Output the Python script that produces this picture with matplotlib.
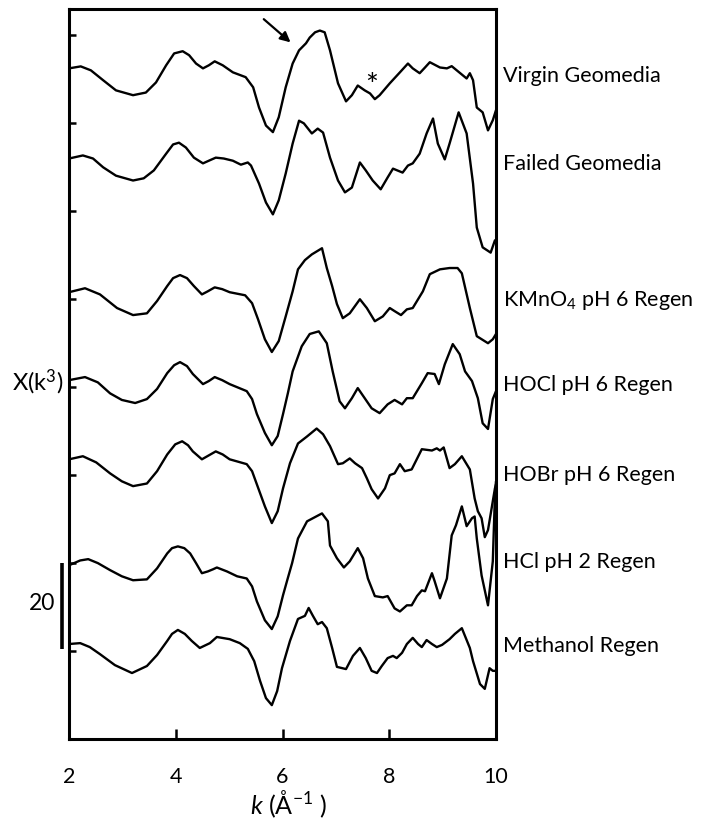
import matplotlib
matplotlib.use("Agg")
import matplotlib.pyplot as plt
import matplotlib.transforms as mtransforms
import numpy as np

plt.rcParams['font.family'] = ['Lato', 'DejaVu Sans']
plt.rcParams['mathtext.fontset'] = 'custom'
plt.rcParams['mathtext.rm'] = 'Lato'
plt.rcParams['mathtext.it'] = 'Lato:italic'

# ---------------- data (k in 1/Angstrom, k^3-weighted chi relative to each trace start) ----------
labels = ["Virgin Geomedia", "Failed Geomedia", "KMnO$_4$ pH 6 Regen", "HOCl pH 6 Regen",
          "HOBr pH 6 Regen", "HCl pH 2 Regen", "Methanol Regen"]
offsets = [152.5, 132.0, 101.6, 81.6, 63.6, 39.5, 21.6]
label_y = [150.7, 130.7, 99.6, 80.5, 60.0, 40.2, 21.1]

k_virgin = [2.00, 2.22, 2.41, 2.64, 2.88, 3.20, 3.44, 3.63, 3.82, 3.97, 4.13, 4.25, 4.38, 4.51, 4.62,
            4.73, 4.88, 5.07, 5.31, 5.45, 5.56, 5.69, 5.82, 5.93, 6.06, 6.19, 6.31, 6.44, 6.51, 6.61,
            6.70, 6.79, 6.89, 7.04, 7.19, 7.30, 7.41, 7.54, 7.64, 7.73, 7.82, 8.01, 8.20, 8.35, 8.44,
            8.57, 8.67, 8.76, 8.95, 9.08, 9.17, 9.27, 9.38, 9.45, 9.51, 9.57, 9.64, 9.75, 9.85, 9.94,
            10.0]
chi_virgin = [0, 0.45, -0.45, -2.7, -5.0, -6.1, -5.5, -3.2, 0.7, 3.4, 3.9, 3.0, 1.1, 0, 0.7,
              1.6, 0.7, -0.9, -2.0, -4.3, -8.9, -13.0, -14.5, -11.1, -4.3, 1.1, 4.1, 5.7, 7.0, 8.2,
              8.6, 8.2, 4.1, -3.4, -7.5, -6.1, -3.9, -5.0, -5.7, -7.0, -6.1, -3.4, -0.9, 1.1, 0,
              -1.1, 0.2, 1.4, 0.2, 0, 0.5, -0.5, -1.6, -2.3, -1.1, -2.7, -8.9, -10.0, -14.1, -11.8,
              -9.5]

k_failed = [2.00, 2.26, 2.45, 2.64, 2.88, 3.20, 3.40, 3.59, 3.82, 3.95, 4.06, 4.19, 4.34, 4.51, 4.62,
            4.75, 4.90, 5.07, 5.22, 5.35, 5.41, 5.56, 5.69, 5.82, 5.93, 6.06, 6.19, 6.31, 6.40, 6.55,
            6.66, 6.76, 6.89, 7.04, 7.17, 7.30, 7.45, 7.56, 7.69, 7.84, 7.97, 8.07, 8.25, 8.35, 8.44,
            8.57, 8.70, 8.82, 8.91, 9.04, 9.13, 9.30, 9.45, 9.57, 9.64, 9.75, 9.90, 9.98]
chi_failed = [0, 0.7, 0, -2.0, -3.9, -5.0, -4.5, -2.7, 1.1, 3.2, 3.6, 2.5, 0.2, -1.1, -0.5,
              0.2, 0, -0.5, -1.4, -0.9, -1.6, -5.7, -10.0, -12.7, -9.5, -3.4, 3.4, 8.6, 8.0, 5.7,
              6.8, 5.9, 0.2, -5.0, -7.7, -6.6, -0.9, -2.7, -5.0, -7.0, -4.3, -2.3, -3.2, -1.6, -1.1,
              1.1, 5.7, 9.1, 3.4, -0.2, 3.4, 10.5, 5.7, -5.7, -15.7, -20.2, -21.4, -18.6]

k_kmno4 = [2.00, 2.30, 2.58, 2.90, 3.20, 3.46, 3.65, 3.84, 3.95, 4.08, 4.21, 4.34, 4.49, 4.60, 4.73,
           4.87, 5.01, 5.30, 5.43, 5.54, 5.67, 5.80, 5.93, 6.06, 6.19, 6.29, 6.42, 6.55, 6.74, 6.83,
           6.93, 7.02, 7.13, 7.26, 7.45, 7.58, 7.73, 7.88, 8.01, 8.10, 8.22, 8.33, 8.44, 8.63, 8.76,
           8.95, 9.13, 9.28, 9.36, 9.51, 9.64, 9.85, 9.94, 10.0]
chi_kmno4 = [0, 0.9, -0.5, -3.6, -5.2, -4.8, -2.0, 1.4, 3.2, 3.9, 3.2, 1.4, -0.5, 0.2, 1.1,
             0.7, 0, -0.7, -2.5, -6.1, -10.7, -13.6, -11.1, -5.5, 0.2, 5.2, 7.3, 8.6, 10.0, 5.5,
             1.4, -2.7, -5.9, -4.8, -1.6, -3.6, -6.6, -5.5, -3.6, -4.3, -5.2, -3.9, -3.6, 0.2, 4.1,
             5.2, 5.5, 5.5, 4.3, -3.6, -10.0, -11.6, -10.7, -9.5]

k_hocl = [2.00, 2.30, 2.54, 2.77, 2.99, 3.24, 3.46, 3.65, 3.84, 3.97, 4.08, 4.21, 4.32, 4.51, 4.62,
          4.73, 4.87, 5.01, 5.33, 5.43, 5.52, 5.67, 5.80, 5.91, 6.01, 6.10, 6.19, 6.36, 6.51, 6.68,
          6.83, 6.94, 7.07, 7.17, 7.30, 7.41, 7.54, 7.67, 7.82, 7.97, 8.10, 8.24, 8.33, 8.44, 8.61,
          8.72, 8.85, 8.93, 9.04, 9.19, 9.32, 9.42, 9.55, 9.66, 9.75, 9.85, 9.94, 10.0]
chi_hocl = [0, 0.7, -0.5, -3.0, -4.5, -5.2, -4.3, -2.0, 1.6, 3.4, 4.1, 3.2, 1.4, -0.9, -0.2,
            0.7, 0, -0.9, -2.5, -4.3, -7.7, -12.0, -14.8, -12.7, -7.7, -3.0, 2.0, 7.7, 10.5, 11.1,
            8.4, 2.0, -4.8, -6.4, -4.1, -1.8, -4.1, -6.4, -7.5, -5.5, -4.5, -5.5, -4.1, -4.1, -0.7,
            1.6, 1.4, -0.9, 3.6, 8.2, 5.9, 2.0, -0.2, -4.1, -9.8, -11.1, -4.3, -2.5]

k_hobr = [2.00, 2.26, 2.51, 2.77, 2.99, 3.20, 3.46, 3.65, 3.84, 3.99, 4.12, 4.23, 4.32, 4.49, 4.62,
          4.75, 4.88, 5.01, 5.33, 5.43, 5.52, 5.67, 5.80, 5.91, 6.01, 6.14, 6.29, 6.46, 6.64, 6.76,
          6.89, 7.04, 7.13, 7.26, 7.36, 7.49, 7.58, 7.67, 7.79, 7.92, 8.01, 8.10, 8.20, 8.29, 8.42,
          8.61, 8.80, 8.89, 8.95, 9.02, 9.13, 9.23, 9.36, 9.45, 9.51, 9.60, 9.66, 9.73, 9.79, 9.85,
          9.98, 10.0]
chi_hobr = [0, 0.7, -0.7, -3.2, -5.0, -6.1, -5.5, -2.7, 1.1, 3.4, 4.1, 3.2, 1.8, 0, 0.9,
            1.8, 1.1, 0, -1.1, -2.7, -5.7, -10.7, -14.5, -11.8, -6.6, -0.9, 3.6, 5.2, 7.0, 5.7,
            3.0, -1.1, -0.9, 0.2, -0.9, -2.0, -4.3, -6.8, -8.9, -6.6, -3.6, -3.2, -1.1, -2.7, -2.3,
            2.3, 2.0, 2.5, 2.0, 2.7, -2.0, -1.1, 0.7, -1.1, -2.3, -8.9, -11.8, -13.4, -17.7, -16.1,
            -6.6, -5.7]

k_hcl = [2.00, 2.21, 2.36, 2.54, 2.77, 2.99, 3.20, 3.46, 3.65, 3.84, 3.93, 4.04, 4.16, 4.27, 4.38,
         4.49, 4.60, 4.70, 4.77, 4.96, 5.15, 5.33, 5.43, 5.52, 5.67, 5.80, 5.91, 6.01, 6.10, 6.18,
         6.29, 6.46, 6.74, 6.85, 6.89, 7.02, 7.15, 7.26, 7.41, 7.51, 7.60, 7.73, 7.88, 7.97, 8.10,
         8.20, 8.33, 8.42, 8.52, 8.61, 8.67, 8.80, 8.85, 8.95, 9.08, 9.17, 9.25, 9.36, 9.45, 9.55,
         9.60, 9.64, 9.73, 9.85, 9.94, 9.98, 10.0]
chi_hcl = [0, 1.1, 1.4, 0.5, -1.1, -2.5, -3.4, -3.2, -0.7, 2.7, 3.9, 4.3, 3.9, 2.7, 0.5,
           -1.8, -1.4, -0.9, -0.5, -1.4, -2.5, -3.0, -4.8, -8.2, -12.5, -14.5, -11.6, -6.8, -2.9, 0.5,
           6.1, 10.0, 11.8, 10.0, 4.5, 1.6, -0.5, 0.9, 3.9, 1.6, -3.0, -7.0, -7.3, -7.0, -9.8,
           -10.5, -9.1, -9.1, -7.0, -5.7, -5.9, -1.8, -3.6, -7.5, -3.0, 6.8, 9.1, 13.4, 8.9, 10.7,
           11.1, 6.1, -2.3, -9.1, 0.9, 15.9, 19.1]

k_meoh = [2.00, 2.21, 2.39, 2.58, 2.86, 3.18, 3.46, 3.65, 3.84, 3.93, 4.04, 4.17, 4.30, 4.45, 4.64,
          4.77, 5.01, 5.20, 5.35, 5.47, 5.58, 5.69, 5.80, 5.90, 5.99, 6.14, 6.29, 6.42, 6.49, 6.57,
          6.66, 6.74, 6.83, 6.93, 7.02, 7.19, 7.32, 7.45, 7.56, 7.67, 7.77, 7.86, 7.97, 8.07, 8.14,
          8.24, 8.33, 8.44, 8.54, 8.61, 8.70, 8.80, 8.89, 8.99, 9.13, 9.23, 9.36, 9.51, 9.57, 9.70,
          9.79, 9.88, 9.94, 9.98]
chi_meoh = [0, 0.2, -0.7, -2.3, -4.8, -6.6, -5.0, -2.5, 0.7, 2.3, 3.2, 2.3, 0.7, -0.9, 0.2,
            1.6, 1.1, 0.2, -1.1, -3.9, -8.4, -12.3, -13.9, -10.7, -5.5, 0.7, 5.7, 6.4, 8.2, 6.4,
            4.5, 5.0, 3.6, -0.9, -5.2, -5.7, -2.7, -0.9, -3.2, -6.1, -6.6, -5.0, -3.2, -2.7, -3.2,
            -2.0, 0, 1.4, 0, -0.7, 0.9, 0, -0.7, -0.2, 1.1, 2.3, 3.6, -0.9, -3.9, -9.1,
            -10.2, -5.5, -6.1, -6.1]

k_series = [k_virgin, k_failed, k_kmno4, k_hocl, k_hobr, k_hcl, k_meoh]
chi_series = [chi_virgin, chi_failed, chi_kmno4, chi_hocl, chi_hobr, chi_hcl, chi_meoh]

x_ticks = [2, 4, 6, 8, 10]
y_ticks = [20, 40, 60, 80, 100, 120, 140, 160]
scale_bar = (20.5, 40)

# ---------------- figure -------------------------------------------------------------------------
fig = plt.figure(figsize=(7.04, 8.24), dpi=100)
ax = fig.add_axes([69 / 704, 1 - 739 / 824, 427 / 704, 730 / 824])

for ks, cs, off in zip(k_series, chi_series, offsets):
    ax.plot(ks, np.array(cs) + off, color='black', lw=1.7,
            solid_joinstyle='round', solid_capstyle='round')

ax.set_xlim(2, 10)
ax.set_ylim(0, 166)
ax.set_xticks(x_ticks)
ax.set_xticklabels([str(t) for t in x_ticks], fontsize=15.5)
ax.set_yticks(y_ticks)
ax.set_yticklabels([])
ax.tick_params(axis='x', direction='in', length=7, width=1.8, pad=20)
ax.tick_params(axis='y', direction='in', length=5, width=1.8)
for s in ax.spines.values():
    s.set_linewidth(2.2)

bt = mtransforms.blended_transform_factory(ax.transAxes, ax.transData)

# curve labels
for lab, ly in zip(labels, label_y):
    ax.text(1.016, ly, lab, transform=bt, fontsize=15.5, ha='left', va='center')

# axis labels
ax.text(-0.014, 81.1, r'X(k$^3$)', transform=bt, fontsize=17, ha='right', va='center')
fig.text((69 + 220) / 704, 1 - 804 / 824, r'$k$ (Å$^{\mathrm{-1}}$ )', fontsize=18,
         ha='center', va='center')

# scale bar
ax.plot([-0.0164, -0.0164], list(scale_bar), color='black', lw=2.6, transform=bt,
        clip_on=False, solid_capstyle='butt')
ax.text(-0.033, 30.9, '20', transform=bt, fontsize=16.5, ha='right', va='center')

# annotations on virgin trace
ax.annotate('', xy=(6.19, 158.0), xytext=(5.61, 164.1),
            arrowprops=dict(arrowstyle='-|>', color='black', lw=1.6, mutation_scale=15))
ax.text(7.67, 148.5, '*', fontsize=22, ha='center', va='center')

fig.savefig('out.png', dpi=100)
